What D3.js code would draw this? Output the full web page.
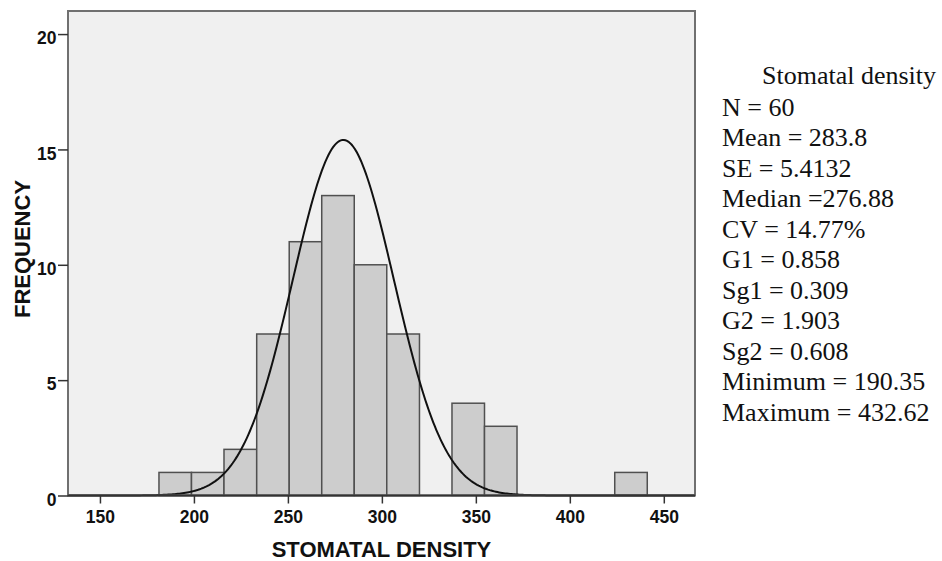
<!DOCTYPE html>
<html>
<head>
<meta charset="utf-8">
<script src="https://cdn.jsdelivr.net/npm/d3@7"></script>
<style>
  html, body { margin: 0; padding: 0; background: #ffffff; }
  svg { display: block; }
</style>
</head>
<body>
<svg id="chart" width="942" height="561"></svg>
<script>
// ---- Data ----
const binEdges = [181.4, 198.7, 216.0, 233.4, 250.7, 268.0, 285.3, 302.6, 320.0, 337.3, 354.6, 371.9, 389.2, 406.6, 423.9, 441.2];
const binCounts = [1, 1, 2, 7, 11, 13, 10, 7, 0, 4, 3, 0, 0, 0, 1];
const xTicks = [150, 200, 250, 300, 350, 400, 450];
const yTicks = [0, 5, 10, 15, 20];
const xTitle = "STOMATAL DENSITY";
const yTitle = "FREQUENCY";
// fitted normal curve parameters (as drawn)
const curveMean = 279.5;
const curveSD = 26.9;
const curveN = 60;
const curveBinWidth = 17.32;
const statsTitle = "Stomatal density";
const statsLines = [
  "N = 60",
  "Mean = 283.8",
  "SE = 5.4132",
  "Median =276.88",
  "CV = 14.77%",
  "G1 = 0.858",
  "Sg1 = 0.309",
  "G2 = 1.903",
  "Sg2 = 0.608",
  "Minimum = 190.35",
  "Maximum = 432.62"
];

// ---- Layout ----
const plot = { left: 68, right: 695, top: 11, bottom: 495.5 };
const svg = d3.select("#chart");

const x = d3.scaleLinear().domain([133, 466.6]).range([plot.left, plot.right]);
const y = d3.scaleLinear().domain([0, 21]).range([plot.bottom, plot.top]);

// plot background
svg.append("rect")
  .attr("x", plot.left).attr("y", plot.top)
  .attr("width", plot.right - plot.left).attr("height", plot.bottom - plot.top)
  .attr("fill", "#f0f0f0");

// bars
const bins = binCounts.map((c, i) => ({ x0: binEdges[i], x1: binEdges[i + 1], count: c })).filter(d => d.count > 0);
svg.append("g").selectAll("rect").data(bins).join("rect")
  .attr("x", d => x(d.x0))
  .attr("width", d => x(d.x1) - x(d.x0))
  .attr("y", d => y(d.count))
  .attr("height", d => y(0) - y(d.count))
  .attr("fill", "#cdcdcd")
  .attr("stroke", "#505050")
  .attr("stroke-width", 1.5);

// normal curve
const xs = d3.range(0, 401).map(i => 133 + i * (466.6 - 133) / 400);
const pdf = v => curveN * curveBinWidth / (curveSD * Math.sqrt(2 * Math.PI)) * Math.exp(-0.5 * Math.pow((v - curveMean) / curveSD, 2));
svg.append("path")
  .datum(xs)
  .attr("d", d3.line().x(v => x(v)).y(v => y(pdf(v))).curve(d3.curveLinear))
  .attr("fill", "none")
  .attr("stroke", "#111")
  .attr("stroke-width", 2);

// frame
svg.append("rect")
  .attr("x", plot.left).attr("y", plot.top)
  .attr("width", plot.right - plot.left).attr("height", plot.bottom - plot.top)
  .attr("fill", "none")
  .attr("stroke", "#707070")
  .attr("stroke-width", 2);
// bottom axis line darker
svg.append("line")
  .attr("x1", plot.left).attr("x2", plot.right)
  .attr("y1", plot.bottom).attr("y2", plot.bottom)
  .attr("stroke", "#333").attr("stroke-width", 2);

// y axis
const yAxis = d3.axisLeft(y).tickValues(yTicks).tickSize(10).tickPadding(1.5);
const gy = svg.append("g").attr("transform", `translate(${plot.left},0)`).call(yAxis);
gy.select(".domain").remove();
gy.selectAll(".tick line").attr("stroke", "#333").attr("stroke-width", 1.5);
gy.selectAll(".tick text")
  .attr("font-family", "Liberation Sans, Arial, sans-serif")
  .attr("font-weight", "bold")
  .attr("font-size", 17.5)
  .attr("fill", "#111")
  .attr("dy", "0.55em");

// x axis
const xAxis = d3.axisBottom(x).tickValues(xTicks).tickSize(8).tickPadding(7);
const gx = svg.append("g").attr("transform", `translate(0,${plot.bottom})`).call(xAxis);
gx.select(".domain").remove();
gx.selectAll(".tick line").attr("stroke", "#333").attr("stroke-width", 1.5);
gx.selectAll(".tick text")
  .attr("font-family", "Liberation Sans, Arial, sans-serif")
  .attr("font-weight", "bold")
  .attr("font-size", 17.5)
  .attr("fill", "#111");

// axis titles
svg.append("text")
  .attr("x", (plot.left + plot.right) / 2).attr("y", 557)
  .attr("text-anchor", "middle")
  .attr("font-family", "Liberation Sans, Arial, sans-serif")
  .attr("font-weight", "bold")
  .attr("font-size", 22)
  .attr("fill", "#111")
  .text(xTitle);

svg.append("text")
  .attr("transform", "translate(30,249) rotate(-90)")
  .attr("text-anchor", "middle")
  .attr("font-family", "Liberation Sans, Arial, sans-serif")
  .attr("font-weight", "bold")
  .attr("font-size", 22)
  .attr("fill", "#111")
  .text(yTitle);

// stats block
const stats = svg.append("g")
  .attr("font-family", "Liberation Serif, Times New Roman, serif")
  .attr("font-size", 26)
  .attr("fill", "#111");
stats.append("text").attr("x", 762).attr("y", 84).text(statsTitle);
stats.selectAll("text.line").data(statsLines).join("text")
  .attr("class", "line")
  .attr("x", 722)
  .attr("y", (d, i) => 115.7 + i * 30.5)
  .text(d => d);
</script>
</body>
</html>
